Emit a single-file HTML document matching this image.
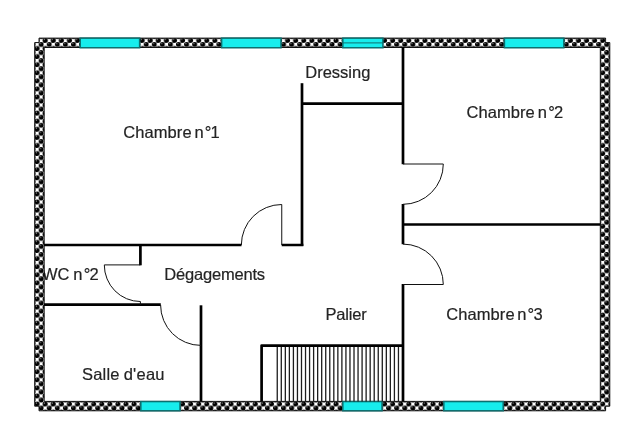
<!DOCTYPE html>
<html lang="fr"><head><meta charset="utf-8"><title>Plan</title>
<style>
html,body{margin:0;padding:0;background:#fff;}
body{width:640px;height:446px;overflow:hidden;position:relative;}
#wrap{position:absolute;left:0;top:0;width:640px;height:446px;will-change:transform;}
svg{position:absolute;left:0;top:0;display:block;}
text{font-family:"Liberation Sans",Arial,Helvetica,sans-serif;font-size:16.5px;fill:#242424;stroke:#242424;stroke-width:0.2px;}
</style></head><body>
<div id="wrap"><svg width="640" height="446" viewBox="0 0 640 446">
<defs>
<pattern id="dots" patternUnits="userSpaceOnUse" x="35.08" y="38.38" width="8.08" height="8.08">
<rect width="8.08" height="8.08" fill="#fff"/>
<circle cx="-2.02" cy="-2.02" r="2.5" fill="#000"/><circle cx="-2.72" cy="-3.02" r="0.6" fill="#aaa"/><circle cx="-2.02" cy="6.06" r="2.5" fill="#000"/><circle cx="-2.72" cy="5.06" r="0.6" fill="#aaa"/><circle cx="-2.02" cy="14.14" r="2.5" fill="#000"/><circle cx="-2.72" cy="13.14" r="0.6" fill="#aaa"/><circle cx="2.02" cy="2.02" r="2.5" fill="#000"/><circle cx="1.32" cy="1.02" r="0.6" fill="#aaa"/><circle cx="2.02" cy="10.10" r="2.5" fill="#000"/><circle cx="1.32" cy="9.10" r="0.6" fill="#aaa"/><circle cx="6.06" cy="-2.02" r="2.5" fill="#000"/><circle cx="5.36" cy="-3.02" r="0.6" fill="#aaa"/><circle cx="6.06" cy="6.06" r="2.5" fill="#000"/><circle cx="5.36" cy="5.06" r="0.6" fill="#aaa"/><circle cx="6.06" cy="14.14" r="2.5" fill="#000"/><circle cx="5.36" cy="13.14" r="0.6" fill="#aaa"/><circle cx="10.10" cy="2.02" r="2.5" fill="#000"/><circle cx="9.40" cy="1.02" r="0.6" fill="#aaa"/><circle cx="10.10" cy="10.10" r="2.5" fill="#000"/><circle cx="9.40" cy="9.10" r="0.6" fill="#aaa"/><circle cx="14.14" cy="-2.02" r="2.5" fill="#000"/><circle cx="13.44" cy="-3.02" r="0.6" fill="#aaa"/><circle cx="14.14" cy="6.06" r="2.5" fill="#000"/><circle cx="13.44" cy="5.06" r="0.6" fill="#aaa"/><circle cx="14.14" cy="14.14" r="2.5" fill="#000"/><circle cx="13.44" cy="13.14" r="0.6" fill="#aaa"/>
</pattern>
</defs>
<rect width="640" height="446" fill="#fff"/>
<g class="t">
<text x="305.25" y="78">Dressing</text>
<text y="138.25"><tspan x="123.25" letter-spacing="0.075">Chambre </tspan><tspan x="194.4 204.8 210.6">n°1</tspan></text>
<text y="118.2"><tspan x="466.45" letter-spacing="0.075">Chambre </tspan><tspan x="537.8 548.2 554.0">n°2</tspan></text>
<text y="320.05"><tspan x="446.3" letter-spacing="0.075">Chambre </tspan><tspan x="517.2 527.6 533.4">n°3</tspan></text>
<text y="279.95"><tspan x="41.9">WC </tspan><tspan x="73.3 83.7 89.5">n°2</tspan></text>
<text x="164.27" y="280.05" letter-spacing="-0.195">Dégagements</text>
<text x="325.45" y="319.85" letter-spacing="-0.16">Palier</text>
<text y="380.25"><tspan x="82.1" letter-spacing="0.17">Salle </tspan><tspan x="123.7" letter-spacing="0.24">d'eau</tspan></text>
</g>
<path fill-rule="evenodd" fill="url(#dots)" stroke="#000" stroke-width="0.9" d="M39 38.1H605.6V42.6H609.8V406.2H605.6V410.8H39V406.2H34.7V42.6H39ZM44.2 47.5V401.4H600.3V47.5Z"/>
<g fill="#17eded" stroke="#0c7070" stroke-width="1.5"><rect x="80.22" y="38.15" width="59.40" height="9.6"/><rect x="221.62" y="38.15" width="59.40" height="9.6"/><rect x="342.82" y="38.15" width="40.10" height="9.6"/><rect x="504.42" y="38.15" width="59.40" height="9.6"/><rect x="140.82" y="401.55" width="39.20" height="9.2"/><rect x="342.82" y="401.55" width="39.20" height="9.2"/><rect x="443.82" y="401.55" width="59.40" height="9.2"/></g>
<line x1="342.32" y1="42.9" x2="383.52" y2="42.9" stroke="#0f6f6f" stroke-width="1"/>
<g stroke="#1c1c1c" stroke-width="1.3"><line x1="277.25" y1="346" x2="277.25" y2="401.5"/><line x1="281.29" y1="346" x2="281.29" y2="401.5"/><line x1="285.33" y1="346" x2="285.33" y2="401.5"/><line x1="289.37" y1="346" x2="289.37" y2="401.5"/><line x1="293.41" y1="346" x2="293.41" y2="401.5"/><line x1="297.45" y1="346" x2="297.45" y2="401.5"/><line x1="301.49" y1="346" x2="301.49" y2="401.5"/><line x1="305.53" y1="346" x2="305.53" y2="401.5"/><line x1="309.57" y1="346" x2="309.57" y2="401.5"/><line x1="313.61" y1="346" x2="313.61" y2="401.5"/><line x1="317.65" y1="346" x2="317.65" y2="401.5"/><line x1="321.69" y1="346" x2="321.69" y2="401.5"/><line x1="325.73" y1="346" x2="325.73" y2="401.5"/><line x1="329.77" y1="346" x2="329.77" y2="401.5"/><line x1="333.81" y1="346" x2="333.81" y2="401.5"/><line x1="337.85" y1="346" x2="337.85" y2="401.5"/><line x1="341.89" y1="346" x2="341.89" y2="401.5"/><line x1="345.93" y1="346" x2="345.93" y2="401.5"/><line x1="349.97" y1="346" x2="349.97" y2="401.5"/><line x1="354.01" y1="346" x2="354.01" y2="401.5"/><line x1="358.05" y1="346" x2="358.05" y2="401.5"/><line x1="362.09" y1="346" x2="362.09" y2="401.5"/><line x1="366.13" y1="346" x2="366.13" y2="401.5"/><line x1="370.17" y1="346" x2="370.17" y2="401.5"/><line x1="374.21" y1="346" x2="374.21" y2="401.5"/><line x1="378.25" y1="346" x2="378.25" y2="401.5"/><line x1="382.29" y1="346" x2="382.29" y2="401.5"/><line x1="386.33" y1="346" x2="386.33" y2="401.5"/><line x1="390.37" y1="346" x2="390.37" y2="401.5"/><line x1="394.41" y1="346" x2="394.41" y2="401.5"/><line x1="398.45" y1="346" x2="398.45" y2="401.5"/></g>
<g stroke="#000" stroke-width="2.7" fill="none" stroke-linecap="butt">
<path d="M44 245H241.5M281.7 245H303.35"/>
<path d="M302 83.2V246"/>
<path d="M302 103.7H403"/>
<path d="M403 47V164.3M403 204V244.2M403 284V401.5"/>
<path d="M403 224.5H600.5"/>
<path d="M140.4 244V265.3"/>
<path d="M44 304.7H160.8"/>
<path d="M201 305.3V401.5"/>
<path d="M403 345.6H261.6V401.5" stroke-linejoin="round"/>
</g>
<g stroke="#111" stroke-width="1" fill="none">
<path d="M140.4 264.9H104.3A36.1 36.6 0 0 0 140.4 301.5V305"/>
<path d="M160.6 305A40.4 40.4 0 0 0 201 345.4"/>
<path d="M281.75 245V204.5A40.4 40.5 0 0 0 241.35 245"/>
<path d="M403 164H443.3A40.3 40.3 0 0 1 403 204.3"/>
<path d="M403 284.5H443.3A40.3 40.4 0 0 0 403 244.1"/>
</g>
</svg></div>
</body></html>
